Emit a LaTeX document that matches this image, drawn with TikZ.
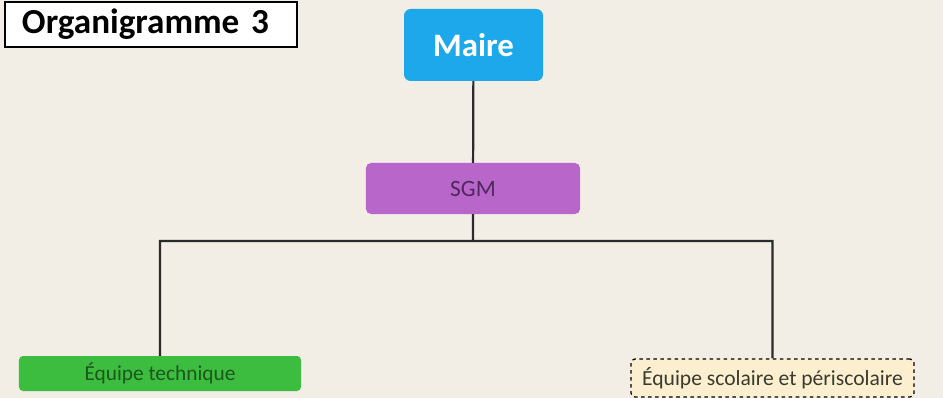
\documentclass[tikz,border=0pt]{standalone}
\usepackage{fontspec}
\setmainfont{Carlito}
\usetikzlibrary{positioning}

\definecolor{paper}{HTML}{F2EDE5}
\definecolor{maireblue}{HTML}{1CA8EA}
\definecolor{sgmpurple}{HTML}{B866C9}
\definecolor{sgmtext}{HTML}{4E2A5C}
\definecolor{techgreen}{HTML}{3DBD3F}
\definecolor{techtext}{HTML}{1E561F}
\definecolor{scolcream}{HTML}{FBEFD0}
\definecolor{scoltext}{HTML}{3A3A30}
\definecolor{linkgray}{HTML}{2B2B2B}

\begin{document}
\begin{tikzpicture}[x=0.03cm, y=-0.03cm]
		\tikzstyle{titlebox} = [draw=black, line width=1.3pt, fill=white, inner ysep=0pt, inner xsep=0.51cm, text width=7.74cm, align=left, font=\bfseries\fontsize{30}{34}\selectfont]
		\tikzstyle{orgbox} = [inner sep=0pt, rounded corners=0.2cm]
		\tikzstyle{link} = [draw=linkgray, line width=1.9pt]
		
		\fill[paper] (0,0) rectangle (943,398);
		\useasboundingbox (0,0) rectangle (943,398);
		
		\node[titlebox, minimum height=1.35cm]	at (151,24.5)	(title)	{Organigramme 3};
		\node[orgbox, fill=maireblue, text=white, minimum width=4.17cm, minimum height=2.16cm, font=\bfseries\fontsize{28}{32}\selectfont]	at (473.5,45)	(maire)	{Maire};
		\node[orgbox, fill=sgmpurple, text=sgmtext, minimum width=6.42cm, minimum height=1.53cm, rounded corners=0.15cm, font=\fontsize{20}{24}\selectfont]	at (473,188.5)	(sgm)	{SGM};
		\coordinate	(junc)	at (473,241);
		\node[orgbox, fill=techgreen, text=techtext, minimum width=8.46cm, minimum height=1.05cm, rounded corners=0.12cm, font=\fontsize{18.2}{21}\selectfont]	at (160,373.5)	(tech)	{Équipe technique};
		\node[orgbox, fill=scolcream, text=scoltext, draw=black, dashed, line width=1.1pt, minimum width=8.49cm, minimum height=1.14cm, rounded corners=0.12cm, font=\fontsize{18.4}{21}\selectfont]	at (772.5,378)	(scol)	{Équipe scolaire et périscolaire};
		
		\path[link]
		(maire)	--	(sgm)
		(sgm)	--	(junc)
		(tech)	|-	(junc)	-|	(scol);
		\end{tikzpicture}
\end{document}
